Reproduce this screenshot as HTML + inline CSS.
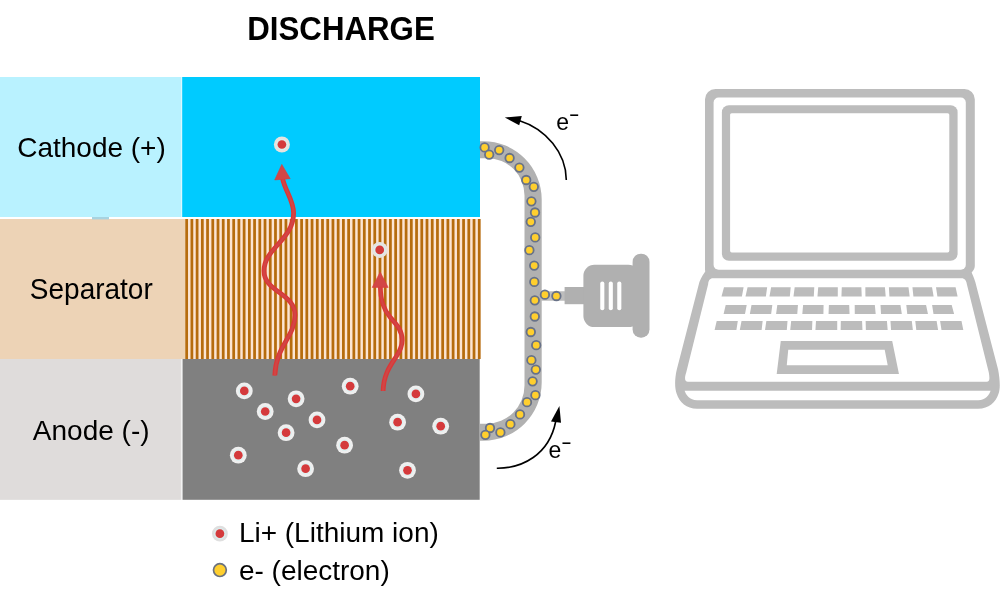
<!DOCTYPE html>
<html lang="en">
<head>
<meta charset="utf-8">
<title>Discharge</title>
<style>
html,body{margin:0;padding:0;background:#ffffff;}
body{width:1000px;height:603px;overflow:hidden;}
svg{display:block;will-change:transform;}
svg text{font-family:"Liberation Sans",sans-serif;fill:#000;}
</style>
</head>
<body>
<svg width="1000" height="603" viewBox="0 0 1000 603">
<rect x="0" y="0" width="1000" height="603" fill="#ffffff"/>
<rect x="0" y="77" width="183" height="140" fill="#dff9ff"/>
<rect x="0" y="77" width="181.1" height="140" fill="#b9f2ff"/>
<rect x="182.2" y="77" width="297.8" height="140" fill="#00cbff"/>
<rect x="0" y="219" width="185" height="140" fill="#edd3b6"/>
<rect x="92" y="217" width="17" height="2.4" fill="#a7d3e0"/>
<rect x="185" y="219" width="295.2" height="140" fill="#fce5d3"/>
<path d="M186.65,219V359M191.88,219V359M197.10,219V359M202.33,219V359M207.55,219V359M212.78,219V359M218.00,219V359M223.22,219V359M228.45,219V359M233.68,219V359M238.90,219V359M244.12,219V359M249.35,219V359M254.57,219V359M259.80,219V359M265.02,219V359M270.25,219V359M275.48,219V359M280.70,219V359M285.93,219V359M291.15,219V359M296.38,219V359M301.60,219V359M306.82,219V359M312.05,219V359M317.27,219V359M322.50,219V359M327.73,219V359M332.95,219V359M338.17,219V359M343.40,219V359M348.62,219V359M353.85,219V359M359.07,219V359M364.30,219V359M369.52,219V359M374.75,219V359M379.98,219V359M385.20,219V359M390.42,219V359M395.65,219V359M400.88,219V359M406.10,219V359M411.32,219V359M416.55,219V359M421.77,219V359M427.00,219V359M432.23,219V359M437.45,219V359M442.67,219V359M447.90,219V359M453.12,219V359M458.35,219V359M463.57,219V359M468.80,219V359M474.02,219V359M479.25,219V359" stroke="#b66c0d" stroke-width="2.75" fill="none"/>
<rect x="0" y="359" width="183" height="140.8" fill="#f3f3f3"/>
<rect x="0" y="359" width="180.9" height="140.8" fill="#dfdcdb"/>
<rect x="182.6" y="359" width="297.1" height="140.8" fill="#808080"/>
<text transform="translate(91.5,157.3) scale(1.0,1.02)" font-size="28" text-anchor="middle">Cathode (+)</text>
<text transform="translate(91.3,298.9) scale(1.0,1.05)" font-size="28" text-anchor="middle">Separator</text>
<text transform="translate(91.2,440) scale(1.0,1.01)" font-size="28" text-anchor="middle">Anode (-)</text>
<text transform="translate(341,40) scale(1.0,1.035)" font-size="31.25" text-anchor="middle" font-weight="bold">DISCHARGE</text>
<path d="M274.8,375.5 C276,345 295,337 295,315 C295,293 264,292 264,271 C264,248 293.6,240 293.6,213 C293.4,200 285.5,192 282.4,178" stroke="#db3636" stroke-width="4.8" fill="none"/>
<path d="M274.8,375.5 C276,345 295,337 295,315 C295,293 264,292 264,271 C264,248 293.6,240 293.6,213 C293.4,200 285.5,192 282.4,178" stroke="#d14545" stroke-width="2.4" fill="none"/>
<path d="M383.1,391 C383.5,375 390,366 396,357 C400,351 402.2,345 402.2,340 C402.2,330 396,324 390,317 C384,310 380.5,302 380.3,286" stroke="#db3636" stroke-width="4.8" fill="none"/>
<path d="M383.1,391 C383.5,375 390,366 396,357 C400,351 402.2,345 402.2,340 C402.2,330 396,324 390,317 C384,310 380.5,302 380.3,286" stroke="#d14545" stroke-width="2.4" fill="none"/>
<path d="M281.8,164.4 L290.2,178.7 L274.7,179.9 Z" fill="#d24646" stroke="#dc3a3a" stroke-width="0.6" stroke-linejoin="round"/>
<path d="M380.2,272 L388.2,287.4 L372.2,287.4 Z" fill="#d24646" stroke="#dc3a3a" stroke-width="0.6" stroke-linejoin="round"/>
<circle cx="281.9" cy="144.5" r="8.0" fill="#e7e3df"/><circle cx="281.9" cy="144.5" r="5.3" fill="none" stroke="#d9f0f1" stroke-width="1"/><circle cx="281.9" cy="144.5" r="4.35" fill="#d43a3c"/>
<circle cx="379.7" cy="249.9" r="8.0" fill="#e7e3df"/><circle cx="379.7" cy="249.9" r="5.3" fill="none" stroke="#d9f0f1" stroke-width="1"/><circle cx="379.7" cy="249.9" r="4.35" fill="#d43a3c"/>
<circle cx="244.3" cy="390.9" r="8.4" fill="#efefef"/><circle cx="244.3" cy="390.9" r="5.3" fill="none" stroke="#d9f0f1" stroke-width="1"/><circle cx="244.3" cy="390.9" r="4.35" fill="#d43a3c"/>
<circle cx="296.1" cy="398.8" r="8.4" fill="#efefef"/><circle cx="296.1" cy="398.8" r="5.3" fill="none" stroke="#d9f0f1" stroke-width="1"/><circle cx="296.1" cy="398.8" r="4.35" fill="#d43a3c"/>
<circle cx="350.2" cy="386.2" r="8.4" fill="#efefef"/><circle cx="350.2" cy="386.2" r="5.3" fill="none" stroke="#d9f0f1" stroke-width="1"/><circle cx="350.2" cy="386.2" r="4.35" fill="#d43a3c"/>
<circle cx="415.9" cy="393.9" r="8.4" fill="#efefef"/><circle cx="415.9" cy="393.9" r="5.3" fill="none" stroke="#d9f0f1" stroke-width="1"/><circle cx="415.9" cy="393.9" r="4.35" fill="#d43a3c"/>
<circle cx="265.2" cy="411.5" r="8.4" fill="#efefef"/><circle cx="265.2" cy="411.5" r="5.3" fill="none" stroke="#d9f0f1" stroke-width="1"/><circle cx="265.2" cy="411.5" r="4.35" fill="#d43a3c"/>
<circle cx="317" cy="419.9" r="8.4" fill="#efefef"/><circle cx="317" cy="419.9" r="5.3" fill="none" stroke="#d9f0f1" stroke-width="1"/><circle cx="317" cy="419.9" r="4.35" fill="#d43a3c"/>
<circle cx="397.6" cy="422.2" r="8.4" fill="#efefef"/><circle cx="397.6" cy="422.2" r="5.3" fill="none" stroke="#d9f0f1" stroke-width="1"/><circle cx="397.6" cy="422.2" r="4.35" fill="#d43a3c"/>
<circle cx="440.7" cy="426.2" r="8.4" fill="#efefef"/><circle cx="440.7" cy="426.2" r="5.3" fill="none" stroke="#d9f0f1" stroke-width="1"/><circle cx="440.7" cy="426.2" r="4.35" fill="#d43a3c"/>
<circle cx="286.1" cy="432.7" r="8.4" fill="#efefef"/><circle cx="286.1" cy="432.7" r="5.3" fill="none" stroke="#d9f0f1" stroke-width="1"/><circle cx="286.1" cy="432.7" r="4.35" fill="#d43a3c"/>
<circle cx="344.6" cy="445.2" r="8.4" fill="#efefef"/><circle cx="344.6" cy="445.2" r="5.3" fill="none" stroke="#d9f0f1" stroke-width="1"/><circle cx="344.6" cy="445.2" r="4.35" fill="#d43a3c"/>
<circle cx="238.3" cy="455.2" r="8.4" fill="#efefef"/><circle cx="238.3" cy="455.2" r="5.3" fill="none" stroke="#d9f0f1" stroke-width="1"/><circle cx="238.3" cy="455.2" r="4.35" fill="#d43a3c"/>
<circle cx="305.6" cy="468.7" r="8.4" fill="#efefef"/><circle cx="305.6" cy="468.7" r="5.3" fill="none" stroke="#d9f0f1" stroke-width="1"/><circle cx="305.6" cy="468.7" r="4.35" fill="#d43a3c"/>
<circle cx="407.5" cy="470.3" r="8.4" fill="#efefef"/><circle cx="407.5" cy="470.3" r="5.3" fill="none" stroke="#d9f0f1" stroke-width="1"/><circle cx="407.5" cy="470.3" r="4.35" fill="#d43a3c"/>
<circle cx="219.9" cy="533.7" r="7.9" fill="#dfdfdf"/><circle cx="219.9" cy="533.7" r="5.3" fill="none" stroke="#d9f0f1" stroke-width="1"/><circle cx="219.9" cy="533.7" r="4.35" fill="#d43a3c"/>
<path d="M480,141.2 H483.2 A58.4,58.4 0 0 1 541.7,199.5 V382.5 A58.4,58.4 0 0 1 483.4,440.8 H480 V423.7 H486.5 A38.1,38.1 0 0 0 524.5,385.5 V195.4 A37.3,37.3 0 0 0 487.3,158.2 H480 Z" fill="#b1b1b1"/>
<path d="M541,296 H566" stroke="#bdbdbd" stroke-width="9.5" fill="none"/>
<rect x="564.6" y="287" width="20" height="17.2" fill="#b0b0b0"/>
<rect x="583.4" y="264.7" width="56" height="62.4" rx="11" fill="#b0b0b0"/>
<rect x="632.6" y="253.7" width="16.9" height="84" rx="8.2" fill="#b0b0b0"/>
<rect x="600.25" y="281.5" width="4.1" height="28.8" rx="2.05" fill="#ffffff"/>
<rect x="608.75" y="281.5" width="4.1" height="28.8" rx="2.05" fill="#ffffff"/>
<rect x="617.25" y="281.5" width="4.1" height="28.8" rx="2.05" fill="#ffffff"/>
<circle cx="484.6" cy="147.4" r="4.25" fill="#ffcf2e" stroke="#687288" stroke-width="1.8"/>
<circle cx="489.2" cy="154.6" r="4.25" fill="#ffcf2e" stroke="#687288" stroke-width="1.8"/>
<circle cx="499.2" cy="150.1" r="4.25" fill="#ffcf2e" stroke="#687288" stroke-width="1.8"/>
<circle cx="509.6" cy="158" r="4.25" fill="#ffcf2e" stroke="#687288" stroke-width="1.8"/>
<circle cx="519.4" cy="167.6" r="4.25" fill="#ffcf2e" stroke="#687288" stroke-width="1.8"/>
<circle cx="526.2" cy="180" r="4.25" fill="#ffcf2e" stroke="#687288" stroke-width="1.8"/>
<circle cx="533.8" cy="186.8" r="4.25" fill="#ffcf2e" stroke="#687288" stroke-width="1.8"/>
<circle cx="531.4" cy="201.3" r="4.25" fill="#ffcf2e" stroke="#687288" stroke-width="1.8"/>
<circle cx="535" cy="212.5" r="4.25" fill="#ffcf2e" stroke="#687288" stroke-width="1.8"/>
<circle cx="530.8" cy="221.8" r="4.25" fill="#ffcf2e" stroke="#687288" stroke-width="1.8"/>
<circle cx="535.2" cy="237.4" r="4.25" fill="#ffcf2e" stroke="#687288" stroke-width="1.8"/>
<circle cx="529.4" cy="250.2" r="4.25" fill="#ffcf2e" stroke="#687288" stroke-width="1.8"/>
<circle cx="534.2" cy="265.6" r="4.25" fill="#ffcf2e" stroke="#687288" stroke-width="1.8"/>
<circle cx="534.3" cy="281.9" r="4.25" fill="#ffcf2e" stroke="#687288" stroke-width="1.8"/>
<circle cx="534.8" cy="300.3" r="4.25" fill="#ffcf2e" stroke="#687288" stroke-width="1.8"/>
<circle cx="544.9" cy="294.7" r="4.25" fill="#ffcf2e" stroke="#687288" stroke-width="1.8"/>
<circle cx="556.4" cy="296" r="4.25" fill="#ffcf2e" stroke="#687288" stroke-width="1.8"/>
<circle cx="534.8" cy="316.5" r="4.25" fill="#ffcf2e" stroke="#687288" stroke-width="1.8"/>
<circle cx="530.8" cy="332" r="4.25" fill="#ffcf2e" stroke="#687288" stroke-width="1.8"/>
<circle cx="536.2" cy="345.2" r="4.25" fill="#ffcf2e" stroke="#687288" stroke-width="1.8"/>
<circle cx="531.4" cy="360.2" r="4.25" fill="#ffcf2e" stroke="#687288" stroke-width="1.8"/>
<circle cx="535.8" cy="369.6" r="4.25" fill="#ffcf2e" stroke="#687288" stroke-width="1.8"/>
<circle cx="532.6" cy="381.3" r="4.25" fill="#ffcf2e" stroke="#687288" stroke-width="1.8"/>
<circle cx="535.4" cy="395.2" r="4.25" fill="#ffcf2e" stroke="#687288" stroke-width="1.8"/>
<circle cx="527" cy="402.2" r="4.25" fill="#ffcf2e" stroke="#687288" stroke-width="1.8"/>
<circle cx="520" cy="414.4" r="4.25" fill="#ffcf2e" stroke="#687288" stroke-width="1.8"/>
<circle cx="510.4" cy="424.2" r="4.25" fill="#ffcf2e" stroke="#687288" stroke-width="1.8"/>
<circle cx="490" cy="428" r="4.25" fill="#ffcf2e" stroke="#687288" stroke-width="1.8"/>
<circle cx="500.4" cy="432.4" r="4.25" fill="#ffcf2e" stroke="#687288" stroke-width="1.8"/>
<circle cx="485.4" cy="434.8" r="4.25" fill="#ffcf2e" stroke="#687288" stroke-width="1.8"/>
<circle cx="219.9" cy="570.1" r="6.4" fill="#ffcf2e" stroke="#6a717f" stroke-width="1.7"/>
<path d="M566.3,180 C566.2,153 546,129 519,120.5" stroke="#000" stroke-width="1.6" fill="none"/>
<path d="M504.8,117.4 L521.8,116.1 L519.2,125.2 Z" fill="#000"/>
<path d="M496.8,468.2 C522,468.5 549,455 555.7,421.5" stroke="#000" stroke-width="1.6" fill="none"/>
<path d="M559.4,406 L561,422.8 L551,421.4 Z" fill="#000"/>
<text transform="translate(556.3,129.6) scale(1.0,1.0)" font-size="23">e</text>
<text transform="translate(568.8,121.2) scale(1.42,0.85)" font-size="23">-</text>
<text transform="translate(548.4,458.0) scale(1.0,1.0)" font-size="23">e</text>
<text transform="translate(561.0,448.6) scale(1.42,0.85)" font-size="23">-</text>
<text transform="translate(238.9,542) scale(1.0,1.02)" font-size="28">Li+ (Lithium ion)</text>
<text transform="translate(238.9,580) scale(1.0,1.02)" font-size="28">e- (electron)</text>
<path d="M707,269.8 C703.8,273 701.4,277 699.4,282 L676.8,369.5 C674.6,379 674.6,388 676.6,393.5 C679.5,402.5 686.5,408.7 697,408.7 H978.2 C988.7,408.7 995.7,402.5 998.6,393.5 C1000.6,388 999.8,379 998.1,369.5 L975.3,282 C973.8,277 972.6,274.5 971.6,272.4 Z" fill="#bcbcbc"/>
<path d="M705,270 V99.3 A10.4,10.4 0 0 1 715.4,88.9 H964.4 A10.4,10.4 0 0 1 974.8,99.3 V266 C974.8,269 973,271 971.6,272.4 L971,279 H707 Z" fill="#bcbcbc"/>
<path d="M713,278.2 C710,278.2 708.3,280.5 708.2,284 L686.2,372.5 C684.6,377.5 684.2,381.7 688,381.7 H986.6 C990.2,381.7 989.6,377.5 988.8,372.5 L966.8,284 C966.4,280.5 964.6,278.2 961.6,278.2 Z" fill="#fff"/>
<path d="M684.6,390.8 C686,395 689.5,400.3 697,400.3 H978.2 C985.7,400.3 989.2,395 990.6,390.8 Z" fill="#fff"/>
<rect x="713.6" y="97.6" width="252.2" height="172.2" rx="5" fill="#fff"/>
<rect x="721.9" y="105.2" width="235.7" height="155.5" rx="7" fill="#bcbcbc"/>
<rect x="730.1" y="113.2" width="219.2" height="139.2" rx="1.6" fill="#fff"/>
<path d="M724.00,287.3L743.60,287.3L741.90,296.5L721.50,296.5ZM747.56,287.3L767.16,287.3L765.87,296.5L745.49,296.5ZM771.11,287.3L790.71,287.3L789.83,296.5L769.48,296.5ZM794.67,287.3L814.27,287.3L813.80,296.5L793.47,296.5ZM818.22,287.3L837.82,287.3L837.77,296.5L817.46,296.5ZM841.78,287.3L861.38,287.3L861.73,296.5L841.44,296.5ZM865.33,287.3L884.93,287.3L885.70,296.5L865.43,296.5ZM888.89,287.3L908.49,287.3L909.67,296.5L889.42,296.5ZM912.44,287.3L932.04,287.3L933.63,296.5L913.41,296.5ZM936.00,287.3L955.60,287.3L957.60,296.5L937.40,296.5ZM725.70,304.9L746.70,304.9L745.00,314.0L723.60,314.0ZM751.50,304.9L772.33,304.9L771.14,314.0L749.84,314.0ZM777.30,304.9L797.95,304.9L797.27,314.0L776.08,314.0ZM803.10,304.9L823.58,304.9L823.41,314.0L802.31,314.0ZM828.90,304.9L849.20,304.9L849.55,314.0L828.55,314.0ZM854.70,304.9L874.83,304.9L875.69,314.0L854.79,314.0ZM880.50,304.9L900.45,304.9L901.82,314.0L881.02,314.0ZM906.30,304.9L926.07,304.9L927.96,314.0L907.26,314.0ZM932.10,304.9L951.70,304.9L954.10,314.0L933.50,314.0ZM716.70,321.0L737.80,321.0L736.40,330.1L714.60,330.1ZM741.52,321.0L762.66,321.0L761.61,330.1L739.81,330.1ZM766.34,321.0L787.51,321.0L786.82,330.1L765.02,330.1ZM791.17,321.0L812.37,321.0L812.03,330.1L790.23,330.1ZM815.99,321.0L837.22,321.0L837.24,330.1L815.44,330.1ZM840.81,321.0L862.08,321.0L862.46,330.1L840.66,330.1ZM865.63,321.0L886.93,321.0L887.67,330.1L865.87,330.1ZM890.46,321.0L911.79,321.0L912.88,330.1L891.08,330.1ZM915.28,321.0L936.64,321.0L938.09,330.1L916.29,330.1ZM940.10,321.0L961.50,321.0L963.30,330.1L941.50,330.1Z" fill="#bcbcbc"/>
<path d="M780.75,341 H892.2 L898.95,373.9 H776.7 Z M788.25,349.8 L786.75,365.2 H887.7 L884.7,349.8 Z" fill="#bcbcbc" fill-rule="evenodd"/>
</svg>
</body>
</html>
